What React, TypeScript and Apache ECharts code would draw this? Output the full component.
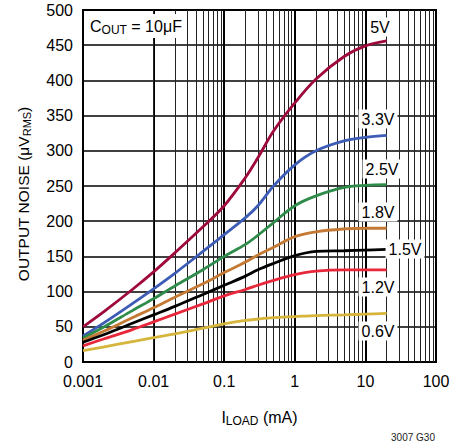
import React, { useEffect, useRef } from "react";
import * as echarts from "echarts";

const loadCurrent = [0.001, 0.002, 0.005, 0.01, 0.02, 0.05, 0.1, 0.2, 0.3, 0.5, 1, 2, 5, 10, 20];

const v5_0 = [50, 72, 103, 128, 155, 192, 222, 262, 290, 328, 368, 402, 434, 449, 456];
const v3_3 = [37, 56, 83, 104, 126, 157, 181, 205, 222, 250, 280, 300, 314, 319, 322];
const v2_5 = [34, 50, 73, 90, 108, 131, 150, 167, 180, 198, 222, 236, 248, 251, 252];
const v1_8 = [31, 44, 63, 77, 92, 111, 127, 142, 152, 163, 178, 185, 189, 190, 190];
const v1_5 = [28, 39, 55, 67, 79, 96, 109, 122, 131, 140, 151, 157, 158, 159, 160];
const v1_2 = [23, 33, 46, 57, 68, 82.5, 94, 103, 109, 116, 124, 129, 131, 131, 131];
const v0_6 = [16, 21.5, 29, 34.5, 40, 48, 54, 59, 61, 63, 64.5, 66, 67, 68, 69];

const seriesNames = ["5V", "3.3V", "2.5V", "1.8V", "1.5V", "1.2V", "0.6V"];
const seriesValues = [v5_0, v3_3, v2_5, v1_8, v1_5, v1_2, v0_6];
const seriesColors = ["#9e0a3b", "#3d5cb5", "#2e8b4a", "#c47a34", "#000000", "#e8273b", "#d6b53c"];

const xTickLabels = ["0.001", "0.01", "0.1", "1", "10", "100"];
const decades = [0.001, 0.01, 0.1, 1, 10];
const minorMultipliers = [2, 3, 4, 5, 6, 7, 8, 9];

// label positions in pixels (center)
const labelPos: [number, number][] = [
  [380, 27],
  [378, 119],
  [382, 169],
  [378, 212],
  [405, 249],
  [378, 287],
  [378, 331],
];

const FONT = "'Liberation Sans', Arial, sans-serif";

export default function App() {
  const ref = useRef<HTMLDivElement>(null);
  useEffect(() => {
    if (!ref.current) return;
    const chart = echarts.init(ref.current, undefined, { renderer: "svg" });
    const minorLines: any[] = [];
    decades.forEach((d) => minorMultipliers.forEach((m) => minorLines.push({ xAxis: +(d * m).toPrecision(3) })));

    const series: any[] = seriesNames.map((name, i) => ({
      name,
      type: "line",
      data: loadCurrent.map((x, j) => [x, seriesValues[i][j]]),
      showSymbol: false,
      smooth: 0.35,
      lineStyle: { color: seriesColors[i], width: 2.8 },
      itemStyle: { color: seriesColors[i] },
      z: 5,
    }));
    series.push({
      type: "line",
      data: [],
      silent: true,
      z: 1,
      markLine: {
        silent: true,
        symbol: "none",
        label: { show: false },
        lineStyle: { color: "#222", width: 1, type: "solid" },
        emphasis: { disabled: true },
        data: minorLines,
      },
    });

    const graphics: any[] = seriesNames.map((name, i) => ({
      type: "text",
      x: labelPos[i][0],
      y: labelPos[i][1],
      z: 10,
      style: {
        text: name,
        fontSize: 16,
        fontFamily: FONT,
        fill: "#000",
        align: "center",
        verticalAlign: "middle",
        backgroundColor: "#fff",
        padding: [2, 3, 1, 3],
      },
    }));
    graphics.push({
      type: "text",
      x: 88,
      y: 14,
      z: 10,
      style: {
        rich: {
          a: { fontSize: 16, fontFamily: FONT, fill: "#000", lineHeight: 20 },
          s: { fontSize: 12, fontFamily: FONT, fill: "#000", lineHeight: 20, padding: [8, 0, 0, 0] },
        },
        text: "{a|C}{s|OUT}{a| = 10μF}",
        backgroundColor: "#fff",
        padding: [2, 4, 2, 2],
      },
    });
    graphics.push({
      type: "text",
      x: 435,
      y: 437,
      style: {
        text: "3007 G30",
        fontSize: 10,
        fontFamily: FONT,
        fill: "#222",
        align: "right",
        verticalAlign: "middle",
      },
    });

    chart.setOption({
      animation: false,
      backgroundColor: "#fff",
      grid: {
        left: 83,
        right: 30,
        top: 10,
        bottom: 86,
        show: true,
        borderColor: "#000",
        borderWidth: 2,
        containLabel: false,
      },
      xAxis: {
        type: "log",
        logBase: 10,
        min: 0.001,
        max: 100,
        axisLine: { show: true, lineStyle: { color: "#000", width: 2 } },
        axisTick: { show: false },
        splitLine: { show: true, lineStyle: { color: "#000", width: 2 } },
        axisLabel: {
          fontSize: 16,
          fontFamily: FONT,
          color: "#000",
          margin: 11,
          formatter: (v: number) => {
            const idx = Math.round(Math.log10(v) + 3);
            return xTickLabels[idx] ?? "";
          },
        },
        name: "{a|I}{s|LOAD}{a| (mA)}",
        nameLocation: "middle",
        nameGap: 45,
        nameTextStyle: {
          rich: {
            a: { fontSize: 16, fontFamily: FONT, color: "#000", lineHeight: 20 },
            s: { fontSize: 12, fontFamily: FONT, color: "#000", lineHeight: 20, padding: [8, 0, 0, 0] },
          },
        },
      },
      yAxis: {
        type: "value",
        min: 0,
        max: 500,
        interval: 50,
        axisLine: { show: true, lineStyle: { color: "#000", width: 2 } },
        axisTick: { show: false },
        splitLine: { show: true, lineStyle: { color: "#000", width: 1.5 } },
        axisLabel: { fontSize: 16, fontFamily: FONT, color: "#000", margin: 10 },
        name: "{a|OUTPUT NOISE (μV}{s|RMS}{a|)}",
        nameLocation: "middle",
        nameGap: 50,
        nameRotate: 90,
        nameTextStyle: {
          padding: [0, 16, 0, 0],
          rich: {
            a: { fontSize: 15.5, fontFamily: FONT, color: "#000", lineHeight: 20 },
            s: { fontSize: 11, fontFamily: FONT, color: "#000", lineHeight: 20, padding: [7, 0, 0, 0] },
          },
        },
      },
      series,
      graphic: graphics,
    });
    return () => chart.dispose();
  }, []);
  return <div ref={ref} style={{ position: "fixed", left: 0, top: 0, width: 466, height: 448 }} />;
}
